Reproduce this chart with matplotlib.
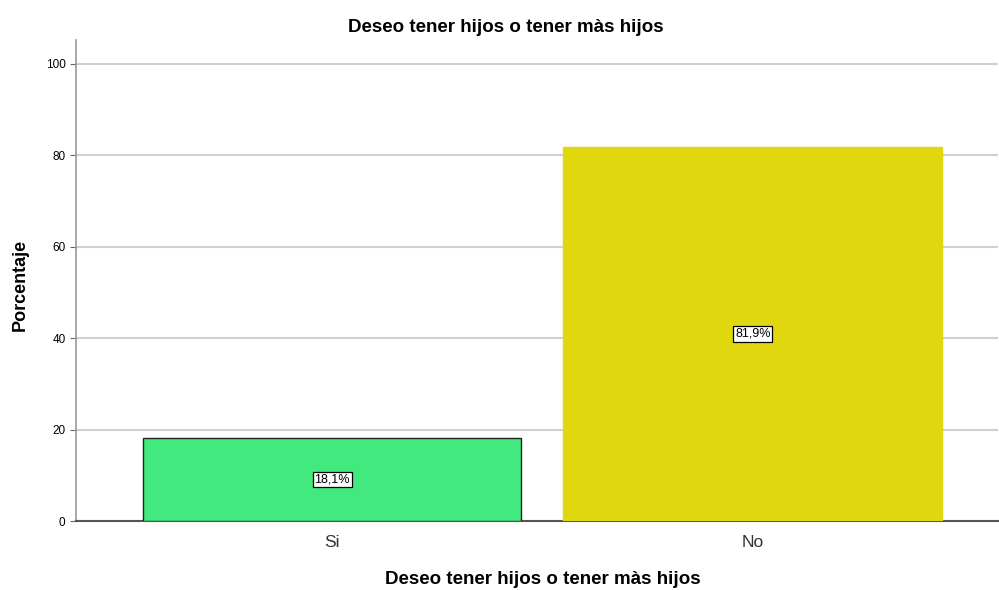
import matplotlib
matplotlib.use("Agg")
import matplotlib.pyplot as plt

categories = ["Si", "No"]
values = [18.1, 81.9]
labels = ["18,1%", "81,9%"]
colors = ["#42E97F", "#E1D70F"]
edges = ["#222222", "#E1D70F"]
yticks = [0, 20, 40, 60, 80, 100]

plt.rcParams['font.family'] = ['Liberation Sans', 'DejaVu Sans']

fig = plt.figure(figsize=(9.99, 5.9), dpi=100)
ax = fig.add_axes([76/999, 69/590, 922/999, 481/590])

x = list(range(len(categories)))
bars = ax.bar(x, values, width=0.9, color=colors, edgecolor=edges, linewidth=1.0, zorder=3)
for xi, v, lab in zip(x, values, labels):
    ax.text(xi, v/2, lab, ha='center', va='center', fontsize=9, zorder=4,
            bbox=dict(boxstyle='square,pad=0.15', facecolor='white', edgecolor='black', linewidth=0.9))

ax.set_xlim(-0.609, 1.583)
ax.set_ylim(0, 105.2)
ax.set_yticks(yticks)
ax.set_xticks(x)
ax.set_xticklabels(categories, fontsize=12.5, color='#333333')
ax.tick_params(axis='y', labelsize=8.5, length=4, color='#666666', width=0.8)
ax.tick_params(axis='x', length=0, pad=10)
ax.yaxis.grid(True, color='#d0d0d0', linewidth=1.5, zorder=0)
ax.set_axisbelow(True)
for s in ['top', 'right']:
    ax.spines[s].set_visible(False)
ax.spines['left'].set_color('#999999')
ax.spines['left'].set_linewidth(1.2)
ax.spines['bottom'].set_color('#555555')
ax.spines['bottom'].set_linewidth(1.5)

fig.text(506/999, 1 - 27/590, "Deseo tener hijos o tener màs hijos", fontsize=13.5,
         fontweight='bold', ha='center', va='center')
fig.text(543/999, 1 - 580/590, "Deseo tener hijos o tener màs hijos", fontsize=13.5,
         fontweight='bold', ha='center', va='center')
fig.text(20/999, 1 - 285/590, "Porcentaje", fontsize=13, fontweight='bold',
         ha='center', va='center', rotation=90)

fig.savefig("out.png", dpi=100)
